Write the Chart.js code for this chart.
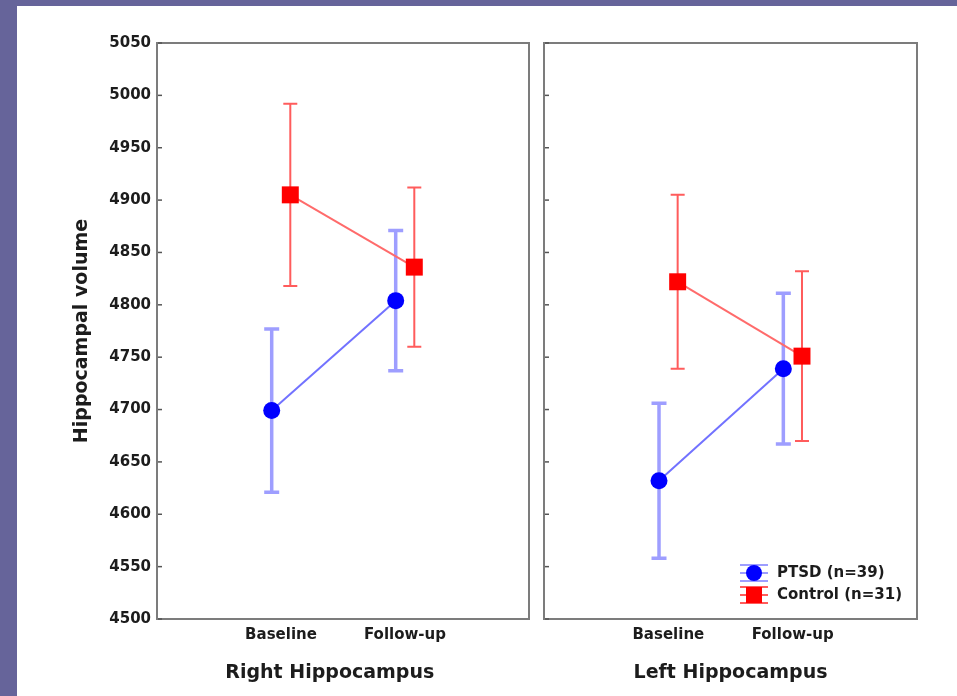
<!DOCTYPE html>
<html>
<head>
<meta charset="utf-8">
<script src="https://cdn.jsdelivr.net/npm/chart.js@4"></script>
<style>
  body { margin: 0; width: 957px; height: 696px; overflow: hidden; position: relative; background: #66649a; }
  #paper { position: absolute; left: 17px; top: 6px; right: 0; bottom: 0; background: #fff; }
  #rightChart { position: absolute; left: 0; top: 0; }
  #leftChart { position: absolute; left: 536px; top: 0; }
</style>
</head>
<body>
<div id="paper"></div>
<canvas id="rightChart" width="536" height="696"></canvas>
<canvas id="leftChart" width="421" height="696"></canvas>
<script>
// ---- data ----
const categories = ["Baseline", "Follow-up"];
const seriesLabels = ["PTSD (n=39)", "Control (n=31)"];
const yMin = 4500, yMax = 5050, yStep = 50;

// right hippocampus
const rightPtsd = [4699, 4804];
const rightPtsdErr = [78, 67];
const rightControl = [4905, 4836];
const rightControlErr = [87, 76];

// left hippocampus
const leftPtsd = [4632, 4739];
const leftPtsdErr = [74, 72];
const leftControl = [4822, 4751];
const leftControlErr = [83, 81];

const FONT = "'DejaVu Sans', Arial, sans-serif";
const TEXT = "#1c1c1c";
const DODGE = 0.075; // horizontal offset so the two groups don't overlap

function makeDatasets(ptsd, ptsdErr, control, controlErr) {
  return [
    {
      label: seriesLabels[0],
      data: ptsd.map((v, i) => ({ x: i + 1 - DODGE, y: v })),
      errors: ptsdErr,
      borderColor: "#7272ff", borderWidth: 2,
      pointStyle: "circle", pointRadius: 8.5,
      pointBackgroundColor: "#0000ff", pointBorderColor: "#0000ff", pointBorderWidth: 0,
      errColor: "rgba(125,125,255,0.75)", errWidth: 3.5, capHalf: 7.5
    },
    {
      label: seriesLabels[1],
      data: control.map((v, i) => ({ x: i + 1 + DODGE, y: v })),
      errors: controlErr,
      borderColor: "#ff6b6b", borderWidth: 2,
      pointStyle: "rect", pointRadius: 12,
      pointBackgroundColor: "#ff0000", pointBorderColor: "#ff0000", pointBorderWidth: 0,
      errColor: "#ff5c5c", errWidth: 2, capHalf: 7
    }
  ];
}

// ---- plugins ----
const errorBars = {
  id: "errorBars",
  beforeDatasetsDraw(chart) {
    const { ctx } = chart;
    const y = chart.scales.y;
    chart.data.datasets.forEach((ds, di) => {
      const meta = chart.getDatasetMeta(di);
      ctx.save();
      ctx.strokeStyle = ds.errColor;
      ctx.lineWidth = ds.errWidth;
      meta.data.forEach((pt, i) => {
        const v = ds.data[i].y, e = ds.errors[i];
        const top = y.getPixelForValue(v + e), bot = y.getPixelForValue(v - e);
        ctx.beginPath();
        ctx.moveTo(pt.x, top); ctx.lineTo(pt.x, bot);
        ctx.moveTo(pt.x - ds.capHalf, top); ctx.lineTo(pt.x + ds.capHalf, top);
        ctx.moveTo(pt.x - ds.capHalf, bot); ctx.lineTo(pt.x + ds.capHalf, bot);
        ctx.stroke();
      });
      ctx.restore();
    });
  }
};

const frame = {
  id: "frame",
  afterDraw(chart) {
    const { ctx, chartArea: a } = chart;
    const y = chart.scales.y;
    ctx.save();
    ctx.strokeStyle = "#7c7c7c";
    ctx.lineWidth = 2;
    ctx.strokeRect(a.left, a.top, a.right - a.left, a.bottom - a.top);
    // little inner tick marks on the left edge
    ctx.strokeStyle = "#555";
    ctx.lineWidth = 1.5;
    y.ticks.forEach(t => {
      const py = y.getPixelForValue(t.value);
      ctx.beginPath();
      ctx.moveTo(a.left + 1, py);
      ctx.lineTo(a.left + 5, py);
      ctx.stroke();
    });
    ctx.restore();
  }
};

const errLegend = {
  id: "errLegend",
  afterDraw(chart) {
    const { ctx, chartArea: a } = chart;
    const mx = a.right - 163, tx = a.right - 140;
    const rows = [a.bottom - 46, a.bottom - 24];
    ctx.save();
    chart.data.datasets.forEach((ds, i) => {
      const cy = rows[i];
      ctx.strokeStyle = ds.errColor;
      ctx.lineWidth = 2;
      ctx.beginPath();
      [-8, 0, 8].forEach(d => { ctx.moveTo(mx - 14, cy + d); ctx.lineTo(mx + 14, cy + d); });
      ctx.stroke();
      ctx.fillStyle = ds.pointBackgroundColor;
      ctx.beginPath();
      if (ds.pointStyle === "circle") ctx.arc(mx, cy, 8, 0, Math.PI * 2);
      else ctx.rect(mx - 8, cy - 8, 16, 16);
      ctx.fill();
      ctx.fillStyle = TEXT;
      ctx.font = "bold 15px " + FONT;
      ctx.textBaseline = "middle";
      ctx.textAlign = "left";
      ctx.fillText(ds.label, tx, cy);
    });
    ctx.restore();
  }
};

function makeChart(id, title, datasets, opts) {
  return new Chart(document.getElementById(id), {
    type: "line",
    data: { datasets },
    plugins: opts.plugins,
    options: {
      responsive: false,
      animation: false,
      events: [],
      layout: { autoPadding: false, padding: { top: 43, right: opts.padRight, left: 0, bottom: 0 } },
      plugins: { legend: { display: false }, tooltip: { enabled: false } },
      scales: {
        x: {
          type: "linear", min: 0, max: 3,
          afterBuildTicks: s => { s.ticks = categories.map((c, i) => ({ value: i + 1 })); },
          afterFit: s => { s.height = 77; },
          grid: { display: false, drawTicks: false },
          border: { display: false },
          ticks: {
            autoSkip: false, padding: 7, color: TEXT, maxRotation: 0,
            font: { family: FONT, size: 15, weight: "bold" },
            callback: v => categories[v - 1]
          },
          title: {
            display: true, text: title, color: TEXT,
            font: { family: FONT, size: 19, weight: "bold" },
            padding: { top: 0, bottom: 12 }
          }
        },
        y: {
          min: yMin, max: yMax,
          afterFit: s => { s.width = opts.yWidth; },
          grid: { display: false, drawTicks: false },
          border: { display: false },
          ticks: {
            display: opts.showY, stepSize: yStep, padding: 6, color: TEXT,
            font: { family: FONT, size: 15, weight: "bold" },
            callback: v => String(v)
          },
          title: {
            display: opts.showY, text: "Hippocampal volume", color: TEXT,
            font: { family: FONT, size: 19, weight: "bold" },
            padding: { top: 71, bottom: 0 }
          }
        }
      }
    }
  });
}

// trailing spaces nudge the first panel's title left, as in the original figure
makeChart("rightChart", "Right Hippocampus    ",
  makeDatasets(rightPtsd, rightPtsdErr, rightControl, rightControlErr),
  { padRight: 7, yWidth: 157, showY: true, plugins: [errorBars, frame] });

makeChart("leftChart", "Left Hippocampus",
  makeDatasets(leftPtsd, leftPtsdErr, leftControl, leftControlErr),
  { padRight: 40, yWidth: 8, showY: false, plugins: [errorBars, frame, errLegend] });
</script>
</body>
</html>
